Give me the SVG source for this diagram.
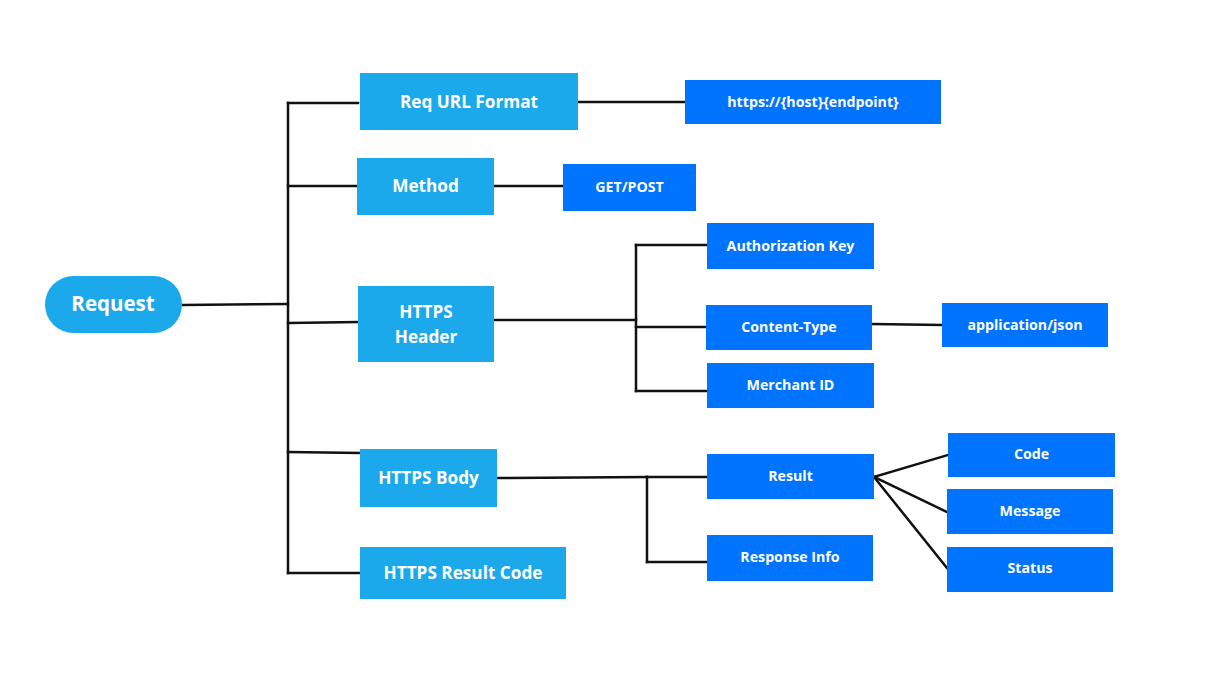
<svg xmlns="http://www.w3.org/2000/svg" width="1223" height="677" viewBox="0 0 1223 677">
<style>
.l{fill:#1BA9EC}
.d{fill:#0073FF}
.t{font-family:"Open Sans","Liberation Sans",sans-serif;font-weight:700;fill:#fff;text-anchor:middle;dominant-baseline:central}
.big{font-size:17.2px}
.sm{font-size:14.2px}
.c{stroke:#111;stroke-width:2.5;fill:none;stroke-linecap:square}
</style>
<rect width="1223" height="677" fill="#fff"/>
<g id="connectors">
<path class="c" d="M183 305 L288 304"/>
<path class="c" d="M288 103 L288 573"/>
<path class="c" d="M288 103 L358 103"/>
<path class="c" d="M288 186 L357 186"/>
<path class="c" d="M288 323 L358 322"/>
<path class="c" d="M288 452 L360 453"/>
<path class="c" d="M288 573 L360 573"/>
<path class="c" d="M578 102 L685 102"/>
<path class="c" d="M494 186 L563 186"/>
<path class="c" d="M494 320 L636 320"/>
<path class="c" d="M636 245 L636 391"/>
<path class="c" d="M636 245 L707 245"/>
<path class="c" d="M636 327 L706 327"/>
<path class="c" d="M636 391 L707 391"/>
<path class="c" d="M872 324 L942 325"/>
<path class="c" d="M497 478 L647 477"/>
<path class="c" d="M647 477 L647 562"/>
<path class="c" d="M647 477 L707 477"/>
<path class="c" d="M647 562 L707 562"/>
<path class="c" d="M874 477 L948 455"/>
<path class="c" d="M874 477 L947 512"/>
<path class="c" d="M874 477 L947 568"/>
</g>
<g id="request"><rect class="l" x="45" y="276" width="137" height="57" rx="28.5"/><text class="t" x="113" y="303" font-size="20.5">Request</text></g>
<g id="req-url"><rect class="l" x="360" y="73" width="218" height="57"/><text class="t big" x="469" y="101">Req URL Format</text></g>
<g id="url-value"><rect class="d" x="685" y="80" width="256" height="44"/><text class="t sm" x="813" y="101">https://{host}{endpoint}</text></g>
<g id="method"><rect class="l" x="357" y="158" width="137" height="57"/><text class="t big" x="425.5" y="185">Method</text></g>
<g id="get-post"><rect class="d" x="563" y="164" width="133" height="47"/><text class="t sm" x="629.5" y="186">GET/POST</text></g>
<g id="https-header"><rect class="l" x="358" y="286" width="136" height="76"/><text class="t big" x="426" y="311">HTTPS</text><text class="t big" x="426" y="336">Header</text></g>
<g id="auth-key"><rect class="d" x="707" y="223" width="167" height="46"/><text class="t sm" x="790.5" y="245">Authorization Key</text></g>
<g id="content-type"><rect class="d" x="706" y="305" width="166" height="45"/><text class="t sm" x="789" y="326">Content-Type</text></g>
<g id="app-json"><rect class="d" x="942" y="303" width="166" height="44"/><text class="t sm" x="1025" y="324">application/json</text></g>
<g id="merchant-id"><rect class="d" x="707" y="363" width="167" height="45"/><text class="t sm" x="790.5" y="384">Merchant ID</text></g>
<g id="https-body"><rect class="l" x="360" y="449" width="137" height="58"/><text class="t big" x="428.5" y="477">HTTPS Body</text></g>
<g id="result-code"><rect class="l" x="360" y="547" width="206" height="52"/><text class="t big" x="463" y="572">HTTPS Result Code</text></g>
<g id="result"><rect class="d" x="707" y="454" width="167" height="45"/><text class="t sm" x="790.5" y="475">Result</text></g>
<g id="response-info"><rect class="d" x="707" y="535" width="166" height="46"/><text class="t sm" x="790" y="556">Response Info</text></g>
<g id="code"><rect class="d" x="948" y="433" width="167" height="44"/><text class="t sm" x="1031.5" y="453">Code</text></g>
<g id="message"><rect class="d" x="947" y="489" width="166" height="45"/><text class="t sm" x="1030" y="510">Message</text></g>
<g id="status"><rect class="d" x="947" y="547" width="166" height="45"/><text class="t sm" x="1030" y="567">Status</text></g>
</svg>
